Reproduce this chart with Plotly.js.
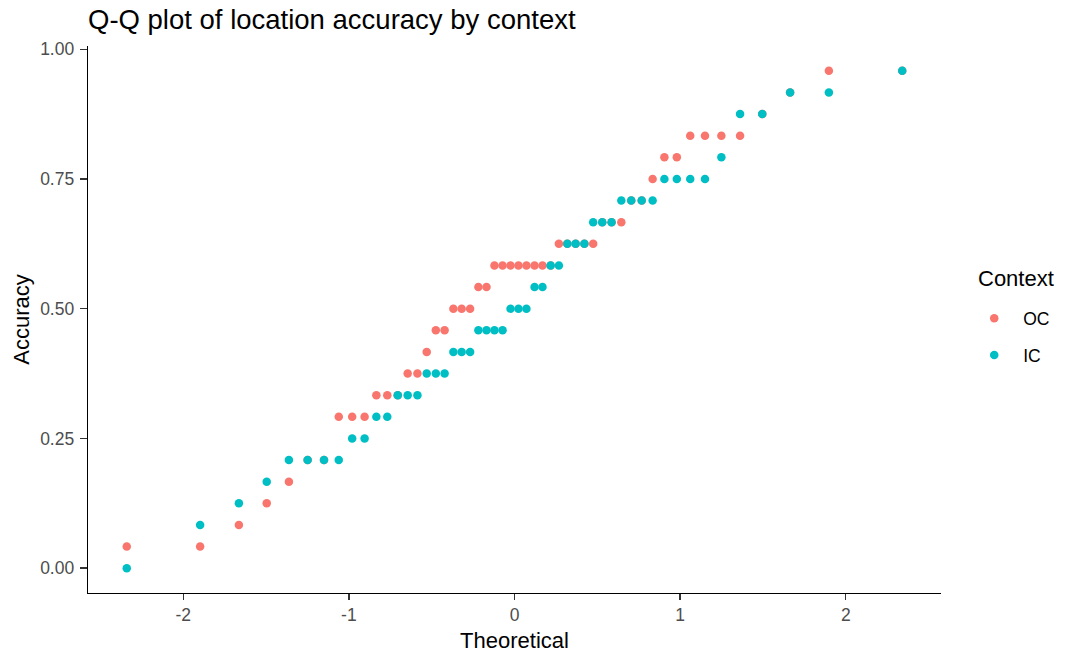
<!DOCTYPE html>
<html>
<head>
<meta charset="utf-8">
<script src="https://cdn.plot.ly/plotly-3.0.1.min.js"></script>
<style>
  html, body { margin: 0; padding: 0; background: #ffffff; }
  #chart { width: 1066px; height: 659px; }
</style>
</head>
<body>
<div id="chart"></div>
<script>
// Theoretical normal quantiles (x positions, 52 points per group)
const theoretical = [
  -2.341, -1.898, -1.664, -1.496, -1.362, -1.249, -1.150, -1.061, -0.980, -0.905,
  -0.834, -0.768, -0.705, -0.645, -0.586, -0.530, -0.475, -0.422, -0.369, -0.319,
  -0.268, -0.218, -0.169, -0.121, -0.072, -0.024, 0.024, 0.072, 0.121, 0.169,
  0.218, 0.268, 0.319, 0.369, 0.422, 0.475, 0.530, 0.586, 0.645, 0.705,
  0.768, 0.834, 0.905, 0.980, 1.061, 1.150, 1.249, 1.362, 1.496, 1.664,
  1.898, 2.341
];

// Sample accuracy, context OC (sorted)
const ocAccuracy = [
  0.0417, 0.0417, 0.0833, 0.1250, 0.1667, 0.2083, 0.2083, 0.2917, 0.2917, 0.2917,
  0.3333, 0.3333, 0.3333, 0.3750, 0.3750, 0.4167, 0.4583, 0.4583, 0.5000, 0.5000,
  0.5000, 0.5417, 0.5417, 0.5833, 0.5833, 0.5833, 0.5833, 0.5833, 0.5833, 0.5833,
  0.5833, 0.6250, 0.6250, 0.6250, 0.6250, 0.6250, 0.6667, 0.6667, 0.6667, 0.7083,
  0.7083, 0.7500, 0.7917, 0.7917, 0.8333, 0.8333, 0.8333, 0.8333, 0.8750, 0.9167,
  0.9583, 0.9583
];

// Sample accuracy, context IC (sorted)
const icAccuracy = [
  0.0000, 0.0833, 0.1250, 0.1667, 0.2083, 0.2083, 0.2083, 0.2083, 0.2500, 0.2500,
  0.2917, 0.2917, 0.3333, 0.3333, 0.3333, 0.3750, 0.3750, 0.3750, 0.4167, 0.4167,
  0.4167, 0.4583, 0.4583, 0.4583, 0.4583, 0.5000, 0.5000, 0.5000, 0.5417, 0.5417,
  0.5833, 0.5833, 0.6250, 0.6250, 0.6250, 0.6667, 0.6667, 0.6667, 0.7083, 0.7083,
  0.7083, 0.7083, 0.7500, 0.7500, 0.7500, 0.7500, 0.7917, 0.8750, 0.8750, 0.9167,
  0.9167, 0.9583
];

const seriesNames = ["OC", "IC"];
const legendTitle = "Context";
const xTickVals = [-2, -1, 0, 1, 2];
const xTickText = ["-2", "-1", "0", "1", "2"];
const yTickVals = [0, 0.25, 0.5, 0.75, 1];
const yTickText = ["0.00", "0.25", "0.50", "0.75", "1.00"];

const FONT = "Liberation Sans, Arial, sans-serif";

const traces = [
  {
    type: "scatter", mode: "markers", name: seriesNames[0], legendgroup: "oc",
    x: theoretical, y: ocAccuracy,
    marker: { color: "#F8766D", size: 8.5, line: { width: 0 } },
    hoverinfo: "x+y+name"
  },
  {
    type: "scatter", mode: "markers", name: seriesNames[1], legendgroup: "ic",
    x: theoretical, y: icAccuracy,
    marker: { color: "#00BFC4", size: 8.5, line: { width: 0 } },
    hoverinfo: "x+y+name"
  }
];

const layout = {
  width: 1066, height: 659,
  paper_bgcolor: "#ffffff", plot_bgcolor: "#ffffff",
  margin: { l: 88, r: 124, t: 46, b: 66, pad: 0 },
  font: { family: FONT, color: "#000000" },
  title: {
    text: "Q-Q plot of location accuracy by context",
    font: { family: FONT, size: 27.5, color: "#000000" },
    xref: "paper", x: 0, xanchor: "left",
    yref: "container", y: 1 - 19 / 659, yanchor: "middle"
  },
  xaxis: {
    range: [-2.575, 2.575],
    tickmode: "array", tickvals: xTickVals, ticktext: xTickText,
    showgrid: false, zeroline: false,
    showline: true, linecolor: "#000000", linewidth: 1.3,
    ticks: "outside", ticklen: 6, tickwidth: 1.3, tickcolor: "#333333",
    tickfont: { family: FONT, size: 17.5, color: "#4D4D4D" },
    title: { text: "Theoretical", font: { family: FONT, size: 22, color: "#000000" }, standoff: 8 }
  },
  yaxis: {
    range: [-0.0479, 1.0062],
    tickmode: "array", tickvals: yTickVals, ticktext: yTickText,
    showgrid: false, zeroline: false,
    showline: true, linecolor: "#000000", linewidth: 1.3,
    ticks: "outside", ticklen: 7, tickwidth: 1.3, tickcolor: "#333333",
    ticklabelstandoff: 2,
    tickfont: { family: FONT, size: 17.5, color: "#4D4D4D" },
    title: { text: "Accuracy", font: { family: FONT, size: 22, color: "#000000" }, standoff: 4 }
  },
  annotations: [{
    text: legendTitle, showarrow: false,
    xref: "paper", yref: "paper",
    x: (977 - 88) / 853.8, xanchor: "left",
    y: (593 - 278) / 547, yanchor: "middle",
    font: { family: FONT, size: 22, color: "#000000" }
  }],
  showlegend: true,
  legend: {
    x: 1.0272, xanchor: "left", y: 0.535, yanchor: "top",
    bgcolor: "rgba(0,0,0,0)", borderwidth: 0,
    font: { family: FONT, size: 17.5, color: "#000000" },
    itemsizing: "trace", itemwidth: 48, tracegroupgap: 11
  }
};

Plotly.newPlot("chart", traces, layout, { displayModeBar: false, staticPlot: true });
</script>
</body>
</html>
